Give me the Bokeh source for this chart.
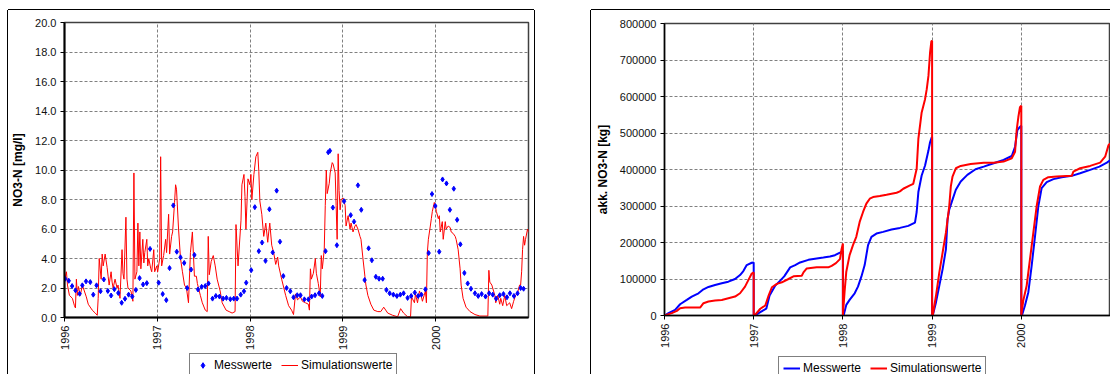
import math
from bokeh.plotting import figure
from bokeh.models import (FixedTicker, PrintfTickFormatter, Range1d, Legend,
                          LegendItem, Spacer)
from bokeh.layouts import row, column
from bokeh.embed import file_html
from bokeh.resources import INLINE

START_YEAR = 1996
year_ticks = [1996, 1997, 1998, 1999, 2000]

# ---------------- left chart: NO3-N concentration [mg/l] ----------------
# simulated series: years since 1996-01-01, concentration
sim_t = [0.000, 0.021, 0.032, 0.053, 0.085, 0.107, 0.118, 0.128, 0.139, 0.150, 0.171, 0.192, 0.203,
         0.235, 0.256, 0.299, 0.331, 0.353, 0.363, 0.374, 0.395, 0.406, 0.417, 0.438, 0.459, 0.470,
         0.481, 0.502, 0.513, 0.524, 0.545, 0.566, 0.577, 0.598, 0.620, 0.630, 0.641, 0.662, 0.673,
         0.684, 0.716, 0.737, 0.748, 0.759, 0.780, 0.791, 0.801, 0.812, 0.823, 0.844, 0.855, 0.865,
         0.887, 0.897, 0.908, 0.930, 0.940, 0.962, 0.972, 0.994, 1.004, 1.026, 1.036, 1.047, 1.068,
         1.090, 1.100, 1.122, 1.133, 1.154, 1.165, 1.186, 1.197, 1.207, 1.229, 1.250, 1.271, 1.293,
         1.314, 1.336, 1.357, 1.378, 1.400, 1.421, 1.432, 1.464, 1.485, 1.517, 1.538, 1.549, 1.560,
         1.581, 1.603, 1.624, 1.645, 1.677, 1.699, 1.741, 1.774, 1.806, 1.838, 1.848, 1.870, 1.902,
         1.912, 1.934, 1.945, 1.955, 1.977, 1.998, 2.009, 2.019, 2.041, 2.062, 2.083, 2.094, 2.105,
         2.126, 2.147, 2.169, 2.190, 2.201, 2.212, 2.233, 2.254, 2.276, 2.297, 2.308, 2.340, 2.383,
         2.415, 2.447, 2.468, 2.489, 2.511, 2.543, 2.564, 2.596, 2.628, 2.639, 2.650, 2.660, 2.682,
         2.703, 2.714, 2.735, 2.756, 2.767, 2.778, 2.799, 2.810, 2.821, 2.831, 2.853, 2.863, 2.885,
         2.895, 2.917, 2.927, 2.938, 2.949, 2.959, 2.970, 2.981, 3.002, 3.024, 3.034, 3.056, 3.077,
         3.088, 3.109, 3.130, 3.141, 3.162, 3.184, 3.195, 3.216, 3.237, 3.248, 3.269, 3.301, 3.333,
         3.376, 3.408, 3.440, 3.483, 3.536, 3.590, 3.622, 3.654, 3.697, 3.729, 3.739, 3.771, 3.782,
         3.804, 3.825, 3.846, 3.857, 3.889, 3.900, 3.910, 3.921, 3.942, 3.953, 3.964, 3.985, 3.996,
         4.007, 4.028, 4.039, 4.049, 4.071, 4.081, 4.103, 4.113, 4.135, 4.156, 4.167, 4.188, 4.210,
         4.220, 4.242, 4.263, 4.274, 4.295, 4.327, 4.370, 4.423, 4.476, 4.562, 4.573, 4.583, 4.605,
         4.637, 4.647, 4.669, 4.690, 4.701, 4.722, 4.744, 4.765, 4.797, 4.818, 4.840, 4.861, 4.883,
         4.904, 4.915, 4.926, 4.936, 4.947, 4.958, 4.968, 4.990, 5.000]
sim_conc = [2.6, 3.1, 2.2, 1.5, 1.3, 0.8, 0.65, 2.6, 1.5, 2.1, 1.5, 2.2, 2.0,
            1.4, 0.9, 0.5, 0.3, 0.15, 1.3, 4.0, 2.6, 4.3, 3.5, 4.3, 3.4, 2.8,
            2.2, 3.1, 2.4, 2.0, 2.6, 2.0, 2.2, 1.3, 4.6, 3.0, 2.6, 6.8, 2.6,
            2.0, 1.8, 1.1, 9.8, 2.6, 3.1, 6.4, 3.5, 5.8, 3.3, 5.3, 3.7, 4.4,
            5.3, 3.5, 4.0, 3.3, 3.1, 4.6, 3.1, 3.5, 3.1, 4.0, 10.9, 3.5, 4.2,
            5.3, 4.4, 7.0, 4.3, 5.5, 5.8, 7.8, 9.0, 8.7, 6.0, 4.0, 3.1, 2.2,
            2.0, 1.0, 4.4, 5.8, 2.8, 2.8, 2.3, 1.5, 1.0, 0.5, 0.4, 5.5, 2.9,
            3.8, 4.2, 3.5, 2.6, 1.8, 1.0, 0.5, 0.4, 0.3, 0.4, 6.3, 3.5, 6.6,
            9.0, 9.7, 8.2, 6.0, 9.4, 9.0, 9.7, 8.0, 9.7, 10.9, 11.2, 9.9, 7.9,
            7.0, 5.5, 6.4, 5.1, 5.8, 6.4, 4.9, 4.4, 3.6, 4.1, 3.5, 2.6, 1.5,
            0.8, 0.5, 0.2, 1.6, 1.2, 1.4, 1.1, 1.0, 0.9, 0.5, 3.3, 2.6, 3.0,
            4.0, 3.0, 2.3, 1.4, 4.2, 3.3, 4.6, 7.6, 10.0, 8.4, 9.1, 9.8, 10.5,
            10.4, 9.8, 7.6, 5.3, 11.1, 8.6, 7.3, 8.0, 8.1, 7.6, 6.2, 6.9, 6.0,
            6.4, 5.8, 6.2, 6.3, 6.0, 5.5, 5.3, 4.0, 2.8, 2.2, 1.5, 0.9, 0.5,
            0.4, 0.4, 0.7, 0.3, 0.15, 0.05, 0.6, 0.3, 0.05, 0.05, 1.4, 1.0, 1.6,
            1.0, 1.8, 1.4, 1.1, 1.8, 1.0, 4.4, 5.3, 6.2, 6.7, 7.2, 7.8, 7.6,
            7.2, 6.7, 6.9, 5.8, 6.5, 5.3, 6.5, 6.0, 6.2, 6.1, 5.8, 5.7, 5.5,
            5.3, 4.6, 3.3, 2.2, 1.3, 0.7, 0.4, 0.2, 0.1, 0.1, 3.2, 2.4, 2.2,
            1.5, 1.0, 1.5, 0.9, 1.3, 0.8, 1.5, 0.8, 1.0, 0.6, 1.1, 1.5, 1.7,
            2.2, 2.2, 3.1, 4.6, 5.5, 4.9, 5.3, 6.0, 5.8]

# measured samples: years since 1996-01-01, concentration
mess_t = [0.007, 0.046, 0.082, 0.118, 0.163, 0.192, 0.232, 0.278, 0.310, 0.345, 0.388, 0.424,
          0.467, 0.502, 0.537, 0.580, 0.616, 0.652, 0.691, 0.730, 0.769, 0.809, 0.847, 0.887,
          0.922, 1.015, 1.058, 1.097, 1.132, 1.172, 1.210, 1.250, 1.290, 1.322, 1.364, 1.400,
          1.439, 1.478, 1.517, 1.552, 1.595, 1.631, 1.670, 1.709, 1.745, 1.787, 1.824, 1.859,
          1.899, 1.934, 1.958, 2.012, 2.051, 2.094, 2.129, 2.166, 2.208, 2.244, 2.286, 2.322,
          2.358, 2.393, 2.433, 2.468, 2.508, 2.543, 2.585, 2.628, 2.663, 2.700, 2.743, 2.778,
          2.813, 2.842, 2.860, 2.892, 2.935, 3.013, 3.084, 3.120, 3.162, 3.198, 3.234, 3.277,
          3.312, 3.355, 3.390, 3.429, 3.469, 3.504, 3.544, 3.582, 3.619, 3.654, 3.697, 3.736,
          3.775, 3.811, 3.846, 3.889, 3.924, 3.960, 3.996, 4.038, 4.074, 4.116, 4.153, 4.195,
          4.231, 4.266, 4.309, 4.345, 4.380, 4.423, 4.458, 4.495, 4.537, 4.576, 4.615, 4.651,
          4.690, 4.730, 4.768, 4.800, 4.843, 4.882, 4.915, 4.947]
mess_conc = [2.63, 2.49, 2.13, 1.84, 1.61, 2.18, 2.45, 2.40, 1.55, 2.18, 1.78, 2.58,
             1.80, 1.49, 1.92, 1.66, 1.00, 1.27, 1.55, 1.42, 1.87, 2.67, 2.24, 2.33,
             4.65, 2.36, 1.59, 1.18, 3.35, 7.60, 4.46, 4.08, 3.70, 2.00, 3.25, 4.24,
             1.90, 2.08, 2.13, 2.31, 1.28, 1.46, 1.42, 1.28, 1.33, 1.24, 1.28, 1.28,
             1.55, 1.78, 2.36, 3.21, 7.48, 4.50, 5.08, 3.84, 7.34, 4.41, 8.60, 5.14,
             2.81, 2.00, 1.78, 1.37, 1.51, 1.51, 1.23, 1.23, 1.42, 1.51, 1.64, 1.46,
             4.50, 11.2, 11.3, 7.45, 4.90, 7.88, 6.94, 6.50, 8.96, 7.30, 2.54, 4.69,
             3.88, 2.76, 2.63, 2.63, 1.87, 1.64, 1.55, 1.46, 1.55, 1.64, 1.33, 1.46,
             1.69, 1.46, 1.55, 1.91, 4.37, 8.37, 7.56, 4.46, 9.36, 9.09, 7.30, 8.73,
             6.62, 4.96, 3.02, 2.31, 1.95, 1.64, 1.46, 1.59, 1.42, 1.64, 1.55, 1.28,
             1.51, 1.59, 1.37, 1.64, 1.46, 1.64, 2.00, 1.95]

# ---------------- right chart: accumulated NO3-N load [kg] ----------------
mess_akk_t = [0.000, 0.045, 0.119, 0.175, 0.250, 0.306, 0.381, 0.437, 0.493, 0.567, 0.642, 0.716,
              0.791, 0.847, 0.884, 0.922, 0.978, 1.000, 1.000,
              1.011, 1.074, 1.141, 1.178, 1.242, 1.297, 1.342, 1.409, 1.465, 1.520, 1.613, 1.706,
              1.781, 1.855, 1.911, 1.967, 2.000, 2.000,
              2.008, 2.038, 2.075, 2.132, 2.169, 2.207, 2.244, 2.282, 2.320, 2.376, 2.451, 2.545,
              2.639, 2.733, 2.808, 2.827, 2.846, 2.883, 2.921, 2.959, 2.977, 2.996, 3.000, 3.000,
              3.007, 3.044, 3.081, 3.118, 3.155, 3.173, 3.192, 3.229, 3.266, 3.321, 3.395, 3.487,
              3.579, 3.690, 3.801, 3.893, 3.930, 3.956, 3.978, 4.000, 4.000,
              4.007, 4.041, 4.079, 4.116, 4.154, 4.191, 4.228, 4.285, 4.360, 4.453, 4.566, 4.659,
              4.772, 4.876, 4.959, 5.000]
mess_akk_kg = [0, 6400, 15500, 30900, 42700, 51800, 60900, 71800, 78200, 83600, 88200, 92700,
               100000, 110900, 121800, 138200, 144500, 145500, 0,
               0, 9500, 18500, 54700, 81900, 95500, 107300, 131700, 138000, 145300, 152500, 156200,
               158900, 161600, 165200, 172500, 177000, 0,
               0, 29100, 42700, 60900, 79100, 106400, 138200, 192700, 215500, 224500, 229100, 235500,
               240000, 245500, 254500, 283600, 338200, 383600, 410900, 451800, 474500, 488200, 488200, 0,
               0, 36600, 81900, 127200, 181500, 263000, 290200, 317400, 344600, 367200, 385300, 400700,
               408000, 417000, 426100, 437000, 462300, 507600, 514900, 520000, 0,
               0, 27600, 63800, 136200, 217700, 299300, 349100, 365400, 373600, 379000, 382600, 389900,
               398900, 408000, 418800, 426100]

sim_akk_t = [0.000, 0.082, 0.138, 0.175, 0.231, 0.399, 0.437, 0.493, 0.567, 0.642, 0.716, 0.791,
             0.847, 0.903, 0.940, 0.978, 1.000, 1.000,
             1.011, 1.074, 1.130, 1.167, 1.204, 1.260, 1.316, 1.390, 1.446, 1.539, 1.558, 1.595,
             1.706, 1.836, 1.874, 1.922, 1.967, 1.985, 2.000, 2.000,
             2.019, 2.038, 2.075, 2.113, 2.150, 2.188, 2.226, 2.263, 2.301, 2.338, 2.414, 2.489,
             2.602, 2.639, 2.677, 2.752, 2.789, 2.827, 2.846, 2.883, 2.921, 2.940, 2.959, 2.977,
             2.992, 3.000, 3.000,
             3.007, 3.044, 3.081, 3.118, 3.155, 3.192, 3.210, 3.229, 3.266, 3.321, 3.432, 3.579,
             3.690, 3.801, 3.893, 3.930, 3.948, 3.967, 3.985, 4.000, 4.000,
             4.022, 4.060, 4.097, 4.135, 4.172, 4.210, 4.247, 4.303, 4.397, 4.566, 4.584, 4.659,
             4.772, 4.884, 4.940, 4.978, 4.996]
sim_akk_kg = [0, 6400, 12700, 20000, 21800, 21800, 33600, 38200, 40900, 42700, 47300, 51800,
              60900, 79000, 97000, 115000, 118000, 0,
              0, 18500, 27500, 54700, 77400, 86600, 90900, 100000, 107300, 109100, 118100, 129000,
              131900, 131900, 136200, 143500, 154400, 181600, 197000, 0,
              65500, 120000, 165500, 192700, 215500, 256400, 283600, 306400, 320000, 324500, 327300, 330900,
              336400, 340000, 347300, 356400, 360900, 401800, 483600, 556400, 592700, 620000, 656400, 720000,
              751800, 751800, 0,
              0, 54700, 118100, 172500, 226800, 299300, 353600, 380800, 403400, 409800, 415200, 418800,
              418800, 421600, 430700, 448800, 507600, 543800, 571000, 575000, 0,
              40800, 81500, 154000, 226800, 299300, 353600, 371700, 379000, 380800, 382600, 394400, 403400,
              409800, 418800, 435100, 466800, 471300]

FONT = "Liberation Sans"
BLUE = "#0000FF"
RED = "#FF0000"
CHART_BORDER = {"box-shadow": "-1px 0 0 0 #000000, 1px 0 0 0 #000000, 0 -1px 0 0 #000000"}


def to_year(ts):
    return [START_YEAR + t for t in ts]


def style(p, y_ticks, y_fmt, ylabel):
    p.background_fill_color = "white"
    p.border_fill_color = "white"
    p.outline_line_color = "#404040"
    p.outline_line_width = 1.5
    p.xaxis.ticker = FixedTicker(ticks=year_ticks)
    p.xaxis.formatter = PrintfTickFormatter(format="%d")
    p.xaxis.major_label_orientation = math.pi / 2
    p.yaxis.ticker = FixedTicker(ticks=y_ticks)
    p.yaxis.formatter = PrintfTickFormatter(format=y_fmt)
    for ax in (p.xaxis[0], p.yaxis[0]):
        ax.axis_line_color = "black"
        ax.axis_line_width = 2
        ax.major_tick_line_color = "black"
        ax.major_tick_out = 4
        ax.major_tick_in = 0
        ax.minor_tick_line_color = None
        ax.major_label_text_font = FONT
        ax.major_label_text_font_size = "11px"
        ax.major_label_text_color = "#111111"
    p.xaxis.major_label_standoff = 4
    p.yaxis.major_label_standoff = 4
    p.yaxis.axis_label = ylabel
    p.yaxis.axis_label_text_font = FONT
    p.yaxis.axis_label_text_font_size = "12px"
    p.yaxis.axis_label_text_font_style = "bold"
    p.yaxis.axis_label_text_color = "black"
    p.yaxis.axis_label_standoff = 7
    p.xgrid.ticker = FixedTicker(ticks=year_ticks)
    p.ygrid.ticker = FixedTicker(ticks=y_ticks)
    for g in (p.xgrid[0], p.ygrid[0]):
        g.grid_line_color = "#808080"
        g.grid_line_dash = "3 2"
        g.grid_line_width = 1


def legend_fig(width, height, loc, first, second):
    """A strip below the chart that only carries the legend; the series are drawn
    outside its (empty) visible range so that only the legend samples show."""
    lf = figure(width=width, height=height, output_backend="svg", toolbar_location=None,
                x_range=Range1d(0, 1), y_range=Range1d(0, 1),
                x_axis_location=None, y_axis_location=None,
                min_border=0, min_border_left=0, min_border_right=0,
                min_border_top=0, min_border_bottom=0)
    lf.grid.visible = False
    lf.outline_line_color = None
    lf.background_fill_color = "white"
    lf.border_fill_color = "white"
    r1 = first(lf)
    r2 = second(lf)
    leg = Legend(items=[LegendItem(label="Messwerte", renderers=[r1]),
                        LegendItem(label="Simulationswerte", renderers=[r2])],
                 orientation="horizontal", location=loc, padding=4, spacing=9,
                 glyph_width=17, glyph_height=14, label_height=14, label_standoff=3, margin=0,
                 label_text_font=FONT, label_text_font_size="12px", label_text_color="black",
                 border_line_color="black", border_line_width=1, background_fill_color="white",
                 background_fill_alpha=1)
    lf.add_layout(leg)
    return lf


# ---- left chart ----
p1 = figure(width=526, height=342, output_backend="svg", toolbar_location=None,
            x_range=Range1d(1996, 2001), y_range=Range1d(0, 20),
            min_border_left=52, min_border_right=6, min_border_top=12, min_border_bottom=33)
style(p1, [0, 2, 4, 6, 8, 10, 12, 14, 16, 18, 20], "%.1f", "NO3-N [mg/l]")
p1.line(to_year(sim_t), sim_conc, line_color=RED, line_width=1)
p1.scatter(to_year(mess_t), mess_conc, marker="diamond", size=5,
           fill_color=BLUE, line_color=BLUE)
leg1 = legend_fig(
    526, 22, (125, -3),
    lambda f: f.scatter(to_year(mess_t), mess_conc, marker="diamond", size=5,
                        fill_color=BLUE, line_color=BLUE),
    lambda f: f.line(to_year(sim_t), sim_conc, line_color=RED, line_width=1))
left_chart = column(p1, leg1, styles=CHART_BORDER)

# ---- right chart ----
p2 = figure(width=519, height=340, output_backend="svg", toolbar_location=None,
            x_range=Range1d(1996, 2001), y_range=Range1d(0, 800000),
            min_border_left=73, min_border_right=0, min_border_top=13, min_border_bottom=33)
style(p2, list(range(0, 800001, 100000)), "%d", "akk. NO3-N [kg]")
p2.xaxis.axis_line_width = 1.5
p2.yaxis.axis_line_width = 1.5
p2.line(to_year(mess_akk_t), mess_akk_kg, line_color=BLUE, line_width=2)
p2.line(to_year(sim_akk_t), sim_akk_kg, line_color=RED, line_width=2)
leg2 = legend_fig(
    519, 24, (114, -6),
    lambda f: f.line(to_year(mess_akk_t), mess_akk_kg, line_color=BLUE, line_width=2),
    lambda f: f.line(to_year(sim_akk_t), sim_akk_kg, line_color=RED, line_width=2))
right_chart = column(p2, leg2, styles=CHART_BORDER)

layout = column(Spacer(width=1110, height=10),
                row(Spacer(width=8, height=364), left_chart, Spacer(width=57, height=364), right_chart))

with open("out.html", "w") as f:
    f.write(file_html(layout, INLINE))
